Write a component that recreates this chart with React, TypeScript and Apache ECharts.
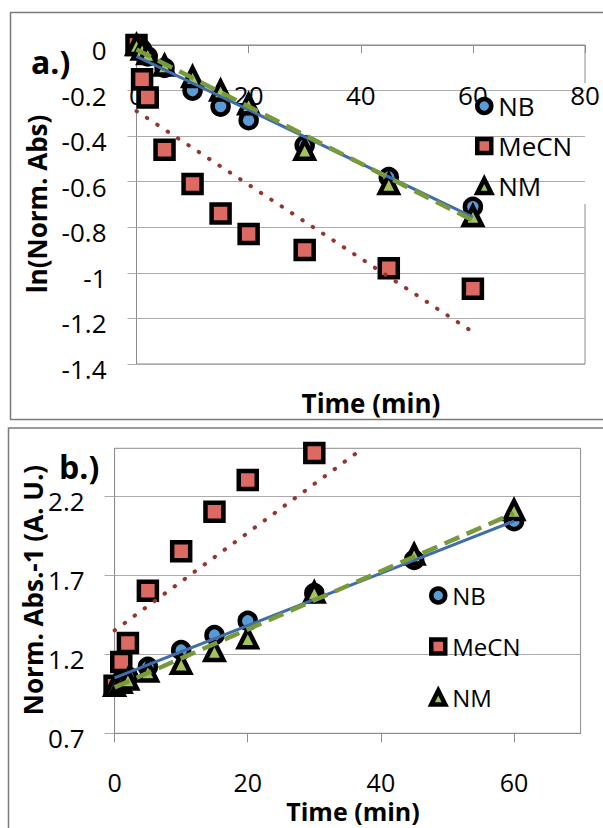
import React, { useEffect, useRef } from "react";
import * as echarts from "echarts";

// ---- data ----
const timesAll = [0, 1, 2, 5, 10, 15, 20, 30, 45, 60];
const timesMeCNb = [0, 1, 2, 5, 10, 15, 20, 30];

// panel a: ln(Norm. Abs)
const lnNB = [0, -0.02, -0.05, -0.1, -0.2, -0.27, -0.33, -0.44, -0.58, -0.71];
const lnMeCN = [0, -0.15, -0.23, -0.46, -0.61, -0.74, -0.83, -0.9, -0.98, -1.07];
const lnNM = [0, -0.02, -0.04, -0.09, -0.14, -0.2, -0.26, -0.46, -0.61, -0.75];

// panel b: Norm. Abs.^-1
const invNB = [1.0, 1.03, 1.06, 1.12, 1.225, 1.32, 1.41, 1.585, 1.795, 2.04];
const invMeCN = [1.0, 1.15, 1.27, 1.6, 1.85, 2.1, 2.3, 2.47];
const invNM = [1.0, 1.02, 1.04, 1.09, 1.14, 1.22, 1.3, 1.59, 1.83, 2.11];

// trend line end points [time, value]
const trendA_NB = [[0, -0.05], [60, -0.755]];
const trendA_NM = [[0, -0.02], [60, -0.77]];
const trendA_MeCN = [[0, -0.29], [60, -1.26]];
const trendB_NB = [[0, 1.05], [60, 2.04]];
const trendB_NM = [[0, 0.99], [60, 2.09]];
const trendB_MeCN = [[0, 1.35], [37.3, 2.5]];

// axis ticks
const xTicksA = [0, 20, 40, 60, 80];
const yTicksA = [-1.4, -1.2, -1, -0.8, -0.6, -0.4, -0.2, 0];
const xTicksB = [0, 20, 40, 60];
const yTicksB = [0.7, 1.2, 1.7, 2.2];

const seriesNames = ["NB", "MeCN", "NM"];

const FONT = '"Open Sans", "Noto Sans", sans-serif';
const C_NB = "#5b9bd5";
const C_MECN = "#dc6a62";
const C_NM = "#a4c35a";
const T_NB = "#3d6eab";
const T_MECN = "#94362f";
const T_NM = "#789a3a";
const GRID_C = "#ababab";
const AXIS_C = "#8c8c8c";

const pair = (xs: number[], ys: number[]) => xs.map((x, i) => [x, ys[i]]);

function buildOption(): any {
  const markerStyle = (color: string) => ({ color, borderColor: "#000", borderWidth: 4.5, opacity: 1 });
  const scatter = (name: string, idx: number, data: number[][], symbol: string, size: number, color: string) => ({
    name,
    type: "scatter",
    xAxisIndex: idx,
    yAxisIndex: idx,
    data,
    symbol,
    symbolSize: size,
    itemStyle: markerStyle(color),
    z: 3,
    silent: true,
  });
  const trend = (name: string, idx: number, data: number[][], lineStyle: any) => ({
    name,
    type: "line",
    xAxisIndex: idx,
    yAxisIndex: idx,
    data,
    symbol: "none",
    showSymbol: false,
    lineStyle,
    z: 4,
    silent: true,
    clip: true,
  });

  const labelBase = { fontFamily: FONT, fontSize: 26, color: "#000", lineHeight: 10 };

  return {
    animation: false,
    backgroundColor: "#fff",
    grid: [
      { left: 136.5, top: 45, width: 448.5, height: 319, show: true, borderColor: AXIS_C, borderWidth: 1, backgroundColor: "transparent" },
      { left: 114.6, top: 448.3, width: 466, height: 285, show: true, borderColor: AXIS_C, borderWidth: 1, backgroundColor: "transparent" },
    ],
    xAxis: [
      {
        gridIndex: 0,
        type: "value",
        position: "top",
        min: 0,
        max: 80,
        interval: 20,
        z: 2,
        axisLine: { show: true, lineStyle: { color: AXIS_C, width: 1 } },
        axisTick: { show: true, inside: true, length: 8, lineStyle: { color: AXIS_C }, customValues: xTicksA },
        axisLabel: { ...labelBase, inside: true, margin: 50, verticalAlign: "middle", customValues: xTicksA },
        splitLine: { show: false },
      },
      {
        gridIndex: 1,
        type: "value",
        position: "bottom",
        min: 0,
        max: 70,
        z: 2,
        axisLine: { show: true, lineStyle: { color: AXIS_C, width: 1 } },
        axisTick: { show: true, inside: false, length: 9, lineStyle: { color: AXIS_C }, customValues: xTicksB },
        axisLabel: { ...labelBase, fontSize: 25, margin: 49, verticalAlign: "middle", customValues: xTicksB },
        splitLine: { show: false },
      },
    ],
    yAxis: [
      {
        gridIndex: 0,
        type: "value",
        min: -1.4,
        max: 0,
        z: 0,
        axisLine: { show: true, lineStyle: { color: AXIS_C, width: 1 } },
        axisTick: { show: true, length: 9, lineStyle: { color: GRID_C }, customValues: yTicksA },
        axisLabel: { ...labelBase, margin: 30, verticalAlign: "top", customValues: yTicksA },
        splitLine: { show: true, lineStyle: { color: GRID_C, width: 1 } },
      },
      {
        gridIndex: 1,
        type: "value",
        min: 0.7,
        max: 2.5,
        z: 0,
        axisLine: { show: true, lineStyle: { color: AXIS_C, width: 1 } },
        axisTick: { show: true, length: 10, lineStyle: { color: GRID_C }, customValues: yTicksB },
        axisLabel: { ...labelBase, margin: 30, verticalAlign: "top", customValues: yTicksB },
        splitLine: { show: true, lineStyle: { color: GRID_C, width: 1 } },
      },
    ],
    legend: [
      {
        data: seriesNames,
        orient: "vertical",
        left: 470,
        top: 88,
        padding: 5,
        itemWidth: 14,
        itemHeight: 14,
        itemGap: 14,
        z: 6,
        selectedMode: false,
        itemStyle: { borderColor: "#000", borderWidth: 4.5, opacity: 1 },
        textStyle: { fontFamily: FONT, fontSize: 26, color: "#000", lineHeight: 26, padding: [0, 0, 0, 2] },
      },
      {
        data: seriesNames,
        orient: "vertical",
        left: 424,
        top: 578,
        padding: 5,
        itemWidth: 14,
        itemHeight: 14,
        itemGap: 26,
        z: 6,
        selectedMode: false,
        itemStyle: { borderColor: "#000", borderWidth: 4.5, opacity: 1 },
        textStyle: { fontFamily: FONT, fontSize: 24, color: "#000", lineHeight: 25, padding: [0, 0, 0, 2] },
      },
    ],
    graphic: {
      z: 1,
      elements: [
        { type: "rect", shape: { x: 10.5, y: 12.5, width: 700, height: 407 }, style: { fill: "none", stroke: "#7a7a7a", lineWidth: 1.5 }, silent: true },
        { type: "rect", shape: { x: 8.5, y: 428, width: 700, height: 500 }, style: { fill: "none", stroke: "#7a7a7a", lineWidth: 1.5 }, silent: true },
        // legend boxes (white, cover gridlines like the original legend)
        { type: "rect", shape: { x: 457, y: 83, width: 145, height: 121 }, style: { fill: "#fff" }, silent: true },
        { type: "rect", shape: { x: 370, y: 560, width: 199, height: 163 }, style: { fill: "#fff" }, silent: true },
        { type: "text", style: { text: "a.)", x: 31, y: 61, font: `bold 32px ${FONT}`, lineHeight: 30, fill: "#000", align: "left", verticalAlign: "middle" }, silent: true },
        { type: "text", style: { text: "b.)", x: 59, y: 466, font: `bold 32px ${FONT}`, lineHeight: 30, fill: "#000", align: "left", verticalAlign: "middle" }, silent: true },
        { type: "text", x: 37, y: 204, rotation: Math.PI / 2, style: { text: "ln(Norm. Abs)", x: 0, y: 0, font: `bold 26px ${FONT}`, lineHeight: 24, fill: "#000", align: "center", verticalAlign: "middle" }, silent: true },
        { type: "text", x: 33, y: 590, rotation: Math.PI / 2, style: { text: "Norm. Abs.-1 (A. U.)", x: 0, y: 0, font: `bold 26px ${FONT}`, lineHeight: 24, fill: "#000", align: "center", verticalAlign: "middle" }, silent: true },
        { type: "text", style: { text: "Time (min)", x: 371, y: 403, font: `bold 26px ${FONT}`, lineHeight: 22, fill: "#000", align: "center", verticalAlign: "middle" }, silent: true },
        { type: "text", style: { text: "Time (min)", x: 353, y: 811, font: `bold 25px ${FONT}`, lineHeight: 18, fill: "#000", align: "center", verticalAlign: "middle" }, silent: true },
      ],
    },
    series: [
      scatter("NB", 0, pair(timesAll, lnNB), "circle", 16, C_NB),
      scatter("MeCN", 0, pair(timesAll, lnMeCN), "rect", 18, C_MECN),
      scatter("NM", 0, pair(timesAll, lnNM), "triangle", 18, C_NM),
      trend("NB trend a", 0, trendA_NB, { color: T_NB, width: 3 }),
      trend("NM trend a", 0, trendA_NM, { color: T_NM, width: 4.5, type: [16, 8] }),
      trend("MeCN trend a", 0, trendA_MeCN, { color: T_MECN, width: 4, type: [0.5, 11.9], cap: "round" }),
      scatter("NB", 1, pair(timesAll, invNB), "circle", 16, C_NB),
      scatter("MeCN", 1, pair(timesMeCNb, invMeCN), "rect", 18, C_MECN),
      scatter("NM", 1, pair(timesAll, invNM), "triangle", 18, C_NM),
      trend("NB trend b", 1, trendB_NB, { color: T_NB, width: 3 }),
      trend("NM trend b", 1, trendB_NM, { color: T_NM, width: 4.5, type: [16, 8] }),
      trend("MeCN trend b", 1, trendB_MeCN, { color: T_MECN, width: 4, type: [0.5, 11.9], cap: "round" }),
    ],
  };
}

export default function App() {
  const ref = useRef<HTMLDivElement>(null);
  useEffect(() => {
    if (!ref.current) return;
    const chart = echarts.init(ref.current, undefined, { renderer: "svg" });
    chart.setOption(buildOption());
    return () => chart.dispose();
  }, []);
  return (
    <div
      ref={ref}
      style={{ position: "absolute", left: 0, top: 0, width: 603, height: 828, background: "#fff" }}
    />
  );
}
